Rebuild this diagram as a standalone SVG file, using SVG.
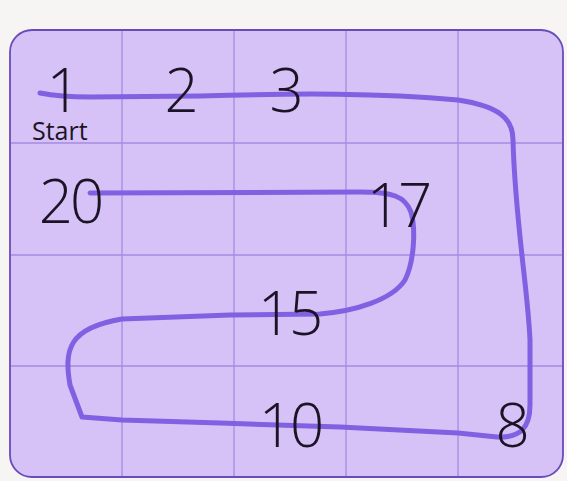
<svg xmlns="http://www.w3.org/2000/svg" width="567" height="481" viewBox="0 0 567 481">
  <style>
    .num { font-family: "Open Sans", "Liberation Sans", sans-serif; font-weight: 300; font-size: 60px; fill: #1c1426; text-anchor: middle; letter-spacing: -3px; }
    .lbl { font-family: "Open Sans", "Liberation Sans", sans-serif; font-weight: 400; font-size: 25px; fill: #1c1426; }
    .grid { stroke: #a68ae0; stroke-width: 1.3; fill: none; }
    .route { stroke: #8260e2; stroke-width: 5; fill: none; stroke-linecap: round; stroke-linejoin: round; }
  </style>
  <rect width="567" height="481" fill="#f7f5f3"/>
  <g id="board">
    <rect x="10" y="30" width="553" height="447" rx="22" fill="#d6c2f6" stroke="#6a4bbb" stroke-width="1.8"/>
    <g class="grid">
      <line x1="122" y1="31" x2="122" y2="476"/>
      <line x1="234" y1="31" x2="234" y2="476"/>
      <line x1="346" y1="31" x2="346" y2="476"/>
      <line x1="458" y1="31" x2="458" y2="476"/>
      <line x1="11" y1="143" x2="562" y2="143"/>
      <line x1="11" y1="255" x2="562" y2="255"/>
      <line x1="11" y1="366" x2="562" y2="366"/>
    </g>
  </g>
  <g id="connectors">
    <path class="route" d="M40,93 Q60,97 90,97 L200,96 C300,93 380,93 458,100 C498,106 513,118 513,140 C515,220 528,290 530,340 L530,405 C530,428 520,438 497,437 L458,433 L340,427 L220,423 L122,420 L82,417 L70,385 C64,350 68,328 122,319 L230,315 L320,314 C355,311 392,300 405,280 C414,262 416,230 411,212 C405,196 392,192 360,192 L90,193"/>
  </g>
  <g id="n1"><text class="num" x="62" y="112">1</text><text class="lbl" x="32" y="140">Start</text></g>
  <g id="n2"><text class="num" x="180" y="112">2</text></g>
  <g id="n3"><text class="num" x="285" y="112">3</text></g>
  <g id="n20"><text class="num" x="70" y="223">20</text></g>
  <g id="n17"><text class="num" x="398" y="227">17</text></g>
  <g id="n15"><text class="num" x="289" y="335">15</text></g>
  <g id="n10"><text class="num" x="290" y="447">10</text></g>
  <g id="n8"><text class="num" x="511" y="447">8</text></g>
</svg>
